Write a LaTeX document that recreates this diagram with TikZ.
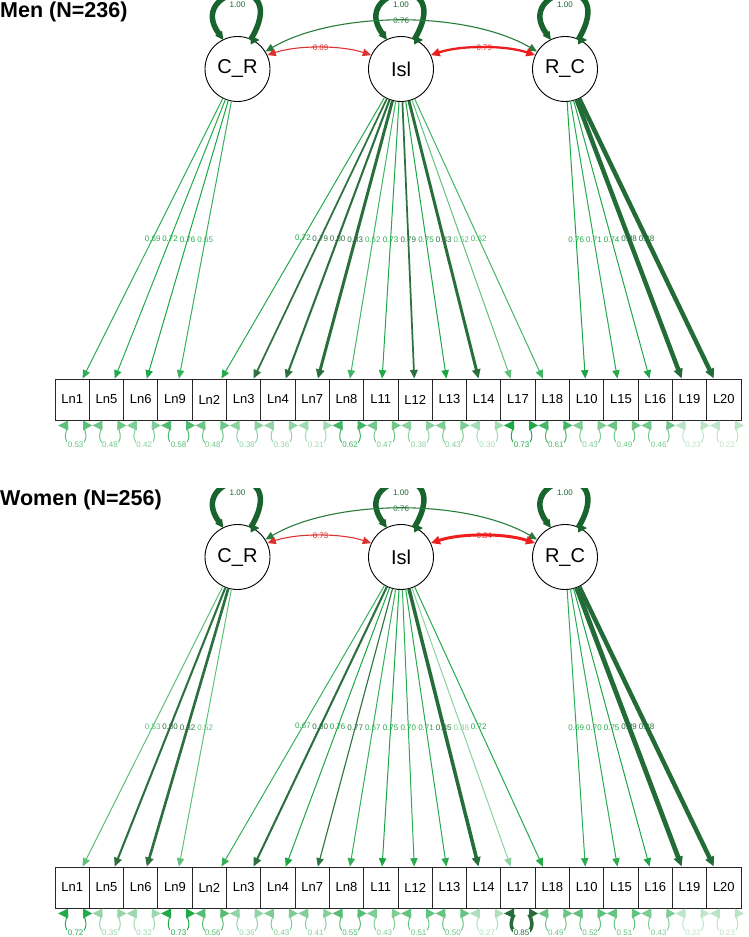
\documentclass[tikz,border=0pt]{standalone}
\usepackage{fontspec}
\setmainfont{Liberation Sans}
\usetikzlibrary{arrows.meta}
\definecolor{dg}{RGB}{25,100,45}
\definecolor{lg}{RGB}{10,160,55}
\definecolor{redA}{RGB}{222,50,50}
\definecolor{redB}{RGB}{238,30,30}
\definecolor{covg}{RGB}{40,125,60}
\tikzset{
  lat/.style={circle, draw=black, line width=0.9pt, fill=white, minimum size=65pt, inner sep=0pt, font=\fontsize{20}{22}\selectfont},
  obs/.style={rectangle, draw=black!85, line width=0.9pt, minimum width=34.3pt, minimum height=41pt, inner sep=0pt, font=\fontsize{13}{15}\selectfont},
  elab/.style={font=\fontsize{8}{9}\selectfont, inner sep=0.5pt},
  ttl/.style={font=\bfseries\fontsize{21.5}{24}\selectfont, inner sep=0pt, anchor=north west},
}
\newcommand\setew[1]{%
  \pgfmathtruncatemacro\isdk{(#1>0.765)?1:0}%
  \ifnum\isdk=1
    \pgfmathsetmacro\ew{min(6,1+(#1-0.765)*30)}%
    \pgfmathtruncatemacro\pc{min(100,60+#1*40)}%
    \edef\ec{dg!\pc!white}%
  \else
    \def\ew{1}%
    \pgfmathtruncatemacro\pc{min(100,#1*125)}%
    \edef\ec{lg!\pc!white}%
  \fi}
\newcommand\panel[8]{%
\begin{scope}
\clip (0,#2) rectangle (749,#2+488);
\node[ttl] (#1title) at (0,#2+2) {#3};
\foreach \n [count=\i] in {Ln1,Ln5,Ln6,Ln9,Ln2,Ln3,Ln4,Ln7,Ln8,L11,L12,L13,L14,L17,L18,L10,L15,L16,L19,L20}
  \node[obs] (#1b\i) at ({72.15+34.3*(\i-1)},{#2+399.5}) {\n};
\node[lat] (#1CR) at (237.5,#2+69) {C\_R};
\node[lat] (#1IS) at (401,#2+69) {Isl};
\node[lat] (#1RC) at (565,#2+69) {R\_C};
% loadings
\foreach \l/\i/\v in {#4} {\setew{\v}%
  \draw[->, line width=\ew pt, draw=\ec] (#1\l) -- (#1b\i) node[elab, midway, text=\ec] {\v};}
% residual variances
\foreach \i/\v in {#5} {\setew{\v}%
  \begin{scope}[shift={(#1b\i.south)}]
  \draw[line width=\ew pt, draw=\ec] (-4,6) .. controls (-18,32) and (25,32) .. (11,6);
  \fill[\ec] (-14,5) -- (-4,0) -- (-4,10) -- cycle;
  \fill[\ec] (20,5) -- (11,0) -- (11,10) -- cycle;
  \node[elab, fill=white, text=\ec] (#1r\i) at (3.5,24) {\v};
  \end{scope}}
% latent variances
\foreach \l in {CR,IS,RC} {%
  \begin{scope}[shift={(#1\l.center)}]
  \draw[dg, line width=5.5pt, {Triangle[length=5pt 0.6,width=4pt 0.7]}-] (-14,-29) .. controls (-52,-81) and (55,-99) .. (13,-29);
  \fill[dg] (22,-29) -- (13,-33.5) -- (13,-24.5) -- cycle;
  \node[elab, fill=white, text=dg, minimum width=24pt, minimum height=11pt] (#1v\l) at (0,-64) {1.00};
  \end{scope}}
% covariances
\draw[<->, covg, line width=1.1pt] (#1CR.32) .. controls +(70,-41) and +(-70,-41) .. (#1RC.148) node[elab, pos=0.5, text=covg] {0.76};
\draw[<->, redA, line width=1.1pt] (#1CR.25) .. controls +(30,-10) and +(-30,-10) .. (#1IS.155) node[elab, pos=0.5, text=redA] {#6};
\draw[<->, redB, line width=#8pt] (#1IS.25) .. controls +(30,-10) and +(-30,-10) .. (#1RC.155) node[elab, pos=0.5, text=redB] {#7};
\end{scope}}
\begin{document}
\begin{tikzpicture}[x=1pt,y=-1pt, >={Triangle[length=8pt 0.4,width=7pt 0.4]}]
\useasboundingbox (0,0) rectangle (749,937);
\panel{m}{0}{Men (N=236)}%
{CR/1/0.69, CR/2/0.72, CR/3/0.76, CR/4/0.65, IS/5/0.72, IS/6/0.79, IS/7/0.80, IS/8/0.83, IS/9/0.62, IS/10/0.73, IS/11/0.79, IS/12/0.75, IS/13/0.83, IS/14/0.52, IS/15/0.62, RC/16/0.76, RC/17/0.71, RC/18/0.74, RC/19/0.88, RC/20/0.88}%
{1/0.53, 2/0.48, 3/0.42, 4/0.58, 5/0.48, 6/0.38, 7/0.36, 8/0.31, 9/0.62, 10/0.47, 11/0.38, 12/0.43, 13/0.30, 14/0.73, 15/0.61, 16/0.43, 17/0.49, 18/0.46, 19/0.23, 20/0.22}%
{-0.69}{-0.79}{2.3}
\panel{w}{488}{Women (N=256)}%
{CR/1/0.53, CR/2/0.80, CR/3/0.82, CR/4/0.52, IS/5/0.67, IS/6/0.80, IS/7/0.76, IS/8/0.77, IS/9/0.67, IS/10/0.75, IS/11/0.70, IS/12/0.71, IS/13/0.85, IS/14/0.38, IS/15/0.72, RC/16/0.69, RC/17/0.70, RC/18/0.75, RC/19/0.89, RC/20/0.88}%
{1/0.72, 2/0.35, 3/0.32, 4/0.73, 5/0.56, 6/0.36, 7/0.43, 8/0.41, 9/0.55, 10/0.43, 11/0.51, 12/0.50, 13/0.27, 14/0.85, 15/0.49, 16/0.52, 17/0.51, 18/0.43, 19/0.22, 20/0.23}%
{-0.73}{-0.84}{3.0}
\end{tikzpicture}
\end{document}
